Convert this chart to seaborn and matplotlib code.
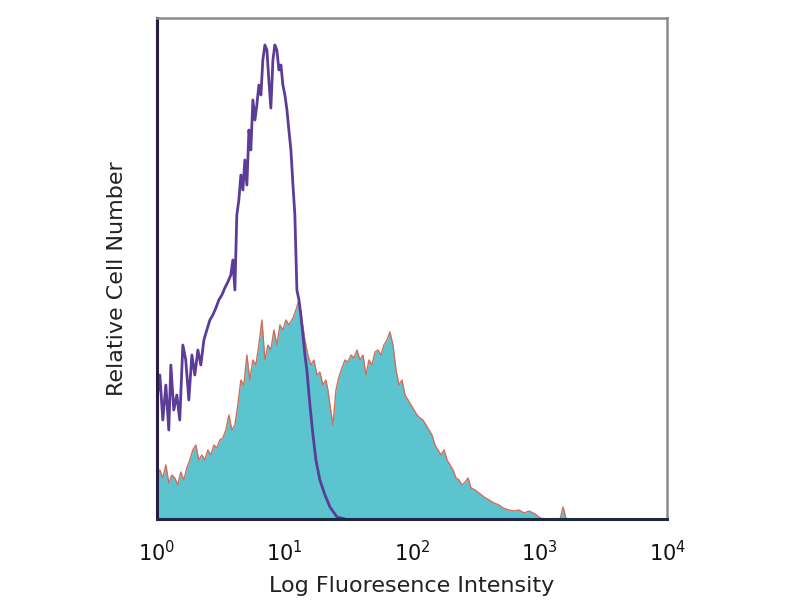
import numpy as np
import pandas as pd
import matplotlib
matplotlib.use("Agg")
import matplotlib.pyplot as plt
import seaborn as sns

# --- datos: canal log10 y cuentas relativas ---
# control (isotipo), linea morada
log_control = [0.000, 0.024, 0.047, 0.071, 0.094, 0.110, 0.133, 0.157, 0.180, 0.204,
               0.227, 0.251, 0.275, 0.298, 0.322, 0.345, 0.369, 0.392, 0.416, 0.439,
               0.463, 0.486, 0.510, 0.533, 0.557, 0.580, 0.596, 0.612, 0.627, 0.643,
               0.659, 0.675, 0.690, 0.706, 0.722, 0.737, 0.753, 0.769, 0.784, 0.800,
               0.816, 0.831, 0.847, 0.863, 0.878, 0.894, 0.910, 0.925, 0.941, 0.957,
               0.973, 0.988, 1.004, 1.020, 1.035, 1.051, 1.067, 1.082, 1.098, 1.114,
               1.129, 1.145, 1.161, 1.176, 1.200, 1.224, 1.247, 1.278, 1.318, 1.357,
               1.412, 1.475]
cuentas_control = [119, 144, 99, 134, 89, 154, 109, 124, 99, 174,
                   159, 119, 164, 144, 169, 154, 179, 189, 199, 204,
                   211, 219, 224, 231, 237, 244, 259, 229, 304, 319,
                   344, 329, 359, 334, 389, 369, 419, 399, 414, 434,
                   424, 459, 474, 469, 439, 411, 459, 474, 469, 449,
                   454, 434, 424, 409, 389, 369, 334, 304, 229, 219,
                   204, 184, 164, 149, 114, 84, 59, 39, 24, 12,
                   2, 0]

# muestra teñida, relleno cian con borde rojo
log_muestra = [0.000, 0.024, 0.047, 0.071, 0.094, 0.118, 0.141, 0.165, 0.188, 0.212,
               0.235, 0.259, 0.282, 0.306, 0.329, 0.353, 0.376, 0.400, 0.424, 0.447,
               0.471, 0.494, 0.518, 0.541, 0.565, 0.588, 0.612, 0.635, 0.659, 0.682,
               0.706, 0.729, 0.753, 0.776, 0.800, 0.824, 0.847, 0.871, 0.894, 0.918,
               0.941, 0.965, 0.988, 1.012, 1.035, 1.067, 1.090, 1.114, 1.137, 1.161,
               1.184, 1.208, 1.231, 1.255, 1.278, 1.302, 1.325, 1.341, 1.357, 1.380,
               1.404, 1.427, 1.451, 1.475, 1.498, 1.522, 1.545, 1.569, 1.592, 1.616,
               1.639, 1.663, 1.686, 1.710, 1.733, 1.757, 1.780, 1.804, 1.827, 1.851,
               1.875, 1.898, 1.922, 1.945, 1.969, 1.992, 2.016, 2.039, 2.063, 2.086,
               2.110, 2.133, 2.157, 2.180, 2.204, 2.227, 2.251, 2.275, 2.298, 2.322,
               2.345, 2.369, 2.392, 2.416, 2.439, 2.463, 2.494, 2.525, 2.565, 2.604,
               2.643, 2.682, 2.714, 2.761, 2.800, 2.839, 2.878, 2.918, 2.965, 3.004,
               3.043, 3.161, 3.184, 3.208, 3.400]
cuentas_muestra = [39, 49, 41, 54, 36, 44, 41, 34, 47, 39,
                   51, 59, 69, 74, 59, 64, 59, 69, 64, 74,
                   71, 79, 81, 89, 104, 89, 94, 114, 139, 134,
                   164, 139, 159, 154, 174, 199, 159, 174, 169, 189,
                   174, 194, 189, 199, 194, 201, 209, 219, 199, 179,
                   164, 154, 159, 144, 147, 134, 139, 129, 114, 94,
                   129, 142, 151, 159, 157, 164, 161, 169, 159, 164,
                   144, 159, 154, 167, 169, 164, 174, 179, 187, 174,
                   149, 134, 139, 124, 119, 114, 109, 104, 101, 99,
                   94, 89, 84, 74, 69, 64, 69, 59, 54, 49,
                   41, 39, 34, 37, 41, 31, 29, 26, 22, 19,
                   16, 14, 11, 9, 8, 9, 6, 8, 5, 1,
                   0, 0, 12, 0, 0]

df_control = pd.DataFrame({"x": np.power(10.0, log_control), "y": cuentas_control})
df_muestra = pd.DataFrame({"x": np.power(10.0, log_muestra), "y": cuentas_muestra})

color_cian = "#5cc4cf"
color_rojo = "#cf6f5e"
color_morado = "#5b3c96"

sns.set_style("white")
plt.rcParams["font.family"] = ["DejaVu Sans"]

fig = plt.figure(figsize=(8, 6), dpi=100)
ax = fig.add_axes([0.196, 0.135, 0.638, 0.835])

ax.fill_between(df_muestra["x"], 0, df_muestra["y"], color=color_cian, linewidth=0)
sns.lineplot(data=df_muestra, x="x", y="y", ax=ax, color=color_rojo,
             linewidth=1.0, sort=False, estimator=None)
sns.lineplot(data=df_control, x="x", y="y", ax=ax, color=color_morado,
             linewidth=2.0, sort=False, estimator=None)

ax.set_xscale("log")
ax.set_xlim(1, 1e4)
ax.set_ylim(0, 501)
ax.set_xticks([1, 10, 100, 1000, 10000])
ax.set_xticks([], minor=True)
ax.set_yticks([])
ax.tick_params(axis="x", length=0, pad=15, labelsize=15, colors="#111111")

ax.set_xlabel("Log Fluoresence Intensity", fontsize=16, color="#222222", labelpad=8)
ax.set_ylabel("Relative Cell Number", fontsize=16, color="#222222")
ax.yaxis.set_label_coords(-0.058, 0.48)

ax.spines["left"].set_color("#2a1d45")
ax.spines["left"].set_linewidth(2.2)
ax.spines["bottom"].set_color("#1e2a44")
ax.spines["bottom"].set_linewidth(2.2)
for lado in ["top", "right"]:
    ax.spines[lado].set_color("#8a8a8a")
    ax.spines[lado].set_linewidth(1.8)

fig.savefig("out.png", dpi=100)
